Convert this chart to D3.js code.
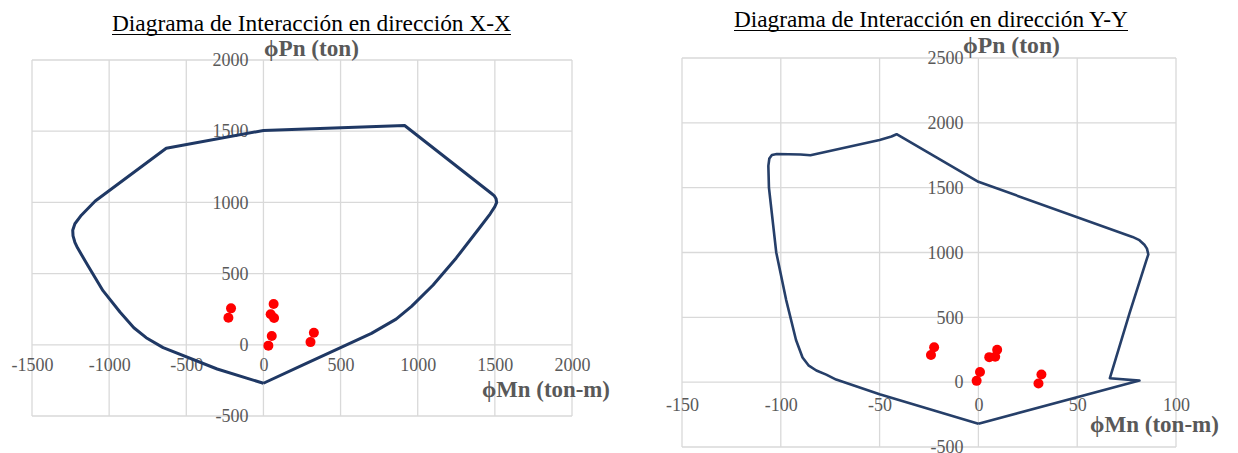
<!DOCTYPE html>
<html>
<head>
<meta charset="utf-8">
<script src="https://cdn.jsdelivr.net/npm/d3@7"></script>
<style>
  html, body { margin: 0; padding: 0; background: #ffffff; }
  svg { display: block; }
</style>
</head>
<body>
<svg id="chart" width="1238" height="453"></svg>
<script>
// ---- Interaction diagram, X-X direction (ϕMn in ton-m, ϕPn in ton) ----
const curveXM = [0, 250, 500, 700, 860, 960, 1100, 1250, 1400, 1470, 1500, 1512, 1508, 1495, 1474, 915, 0, -630, -1090, -1180, -1222, -1236, -1234, -1222, -1205, -1140, -1040, -930, -840, -760, -650, -300, 0];
const curveXP = [-270, -145, -20, 80, 180, 270, 420, 610, 820, 920, 970, 1000, 1025, 1048, 1066, 1540, 1505, 1380, 1010, 910, 850, 805, 765, 720, 681, 560, 380, 230, 120, 50, -20, -170, -270];
const loadsXM = [-210, -227, 66, 47, 69, 54, 32, 327, 305];
const loadsXP = [256, 190, 286, 214, 188, 62, -6, 85, 19];
const ticksXM = [-1500, -1000, -500, 0, 500, 1000, 1500, 2000];
const ticksXP = [-500, 0, 500, 1000, 1500, 2000];

// ---- Interaction diagram, Y-Y direction ----
const curveYM = [0, 81.5, 66.5, 76.5, 85, 86, 85.3, 84, 81.5, 78, 0, -41.4, -44, -50, -85, -90, -102, -104.5, -105.8, -106.3, -106, -102.3, -97.3, -92.3, -89, -86, -82, -77, -72, -50, 0];
const curveYP = [-320, 12, 30, 532, 940, 985, 1030, 1060, 1095, 1120, 1545, 1912, 1895, 1868, 1750, 1756, 1760, 1752, 1725, 1668, 1500, 1000, 635, 325, 190, 130, 90, 58, 20, -93, -320];
const loadsYM = [-22.4, -24, 9.5, 5.5, 8.5, 0.8, -0.9, 31.9, 30.4];
const loadsYP = [269, 209, 250, 193, 196, 79, 10, 59, -10];
const ticksYM = [-150, -100, -50, 0, 50, 100];
const ticksYP = [-500, 0, 500, 1000, 1500, 2000, 2500];

const titleX = "Diagrama de Interacción en dirección X-X";
const titleY = "Diagrama de Interacción en dirección Y-Y";
const labelP = "ϕPn (ton)";
const labelM = "ϕMn (ton-m)";

const FONT = "'Liberation Serif', 'Times New Roman', serif";
const GRID = "#d9d9d9";
const TEXT_GREY = "#595959";

const svg = d3.select("#chart");

// scale a text node's font size so it spans the requested width
function fitWidth(sel, width) {
  const node = sel.node();
  const fs = parseFloat(sel.attr("font-size"));
  const w = node.getComputedTextLength();
  sel.attr("font-size", (fs * width / w).toFixed(2));
}

function drawPanel(cfg) {
  const g = svg.append("g");
  const x = d3.scaleLinear().domain(cfg.xDomain).range(cfg.xRange);
  const y = d3.scaleLinear().domain(cfg.yDomain).range(cfg.yRange);

  // gridlines
  g.append("g").selectAll("line").data(cfg.xTicks).join("line")
    .attr("x1", d => x(d)).attr("x2", d => x(d))
    .attr("y1", y.range()[0]).attr("y2", y.range()[1])
    .attr("stroke", GRID).attr("stroke-width", 1.3);
  g.append("g").selectAll("line").data(cfg.yTicks).join("line")
    .attr("y1", d => y(d)).attr("y2", d => y(d))
    .attr("x1", x.range()[0]).attr("x2", x.range()[1])
    .attr("stroke", GRID).attr("stroke-width", 1.3);

  // tick labels along the axes through the origin
  const fmt = d => String(d);
  const xa = g.append("g").attr("transform", `translate(0,${y(0)})`)
    .call(d3.axisBottom(x).tickValues(cfg.xTicks).tickSize(0).tickPadding(cfg.xPad).tickFormat(fmt));
  const ya = g.append("g").attr("transform", `translate(${x(0)},0)`)
    .call(d3.axisLeft(y).tickValues(cfg.yTicks).tickSize(0).tickPadding(cfg.yPad).tickFormat(fmt));
  [xa, ya].forEach(a => {
    a.select(".domain").remove();
    a.selectAll("text").attr("font-family", FONT).attr("font-size", 18).attr("fill", TEXT_GREY);
  });

  // capacity curve
  const pts = d3.zip(cfg.curveM, cfg.curveP);
  g.append("path").datum(pts)
    .attr("d", d3.line().x(d => x(d[0])).y(d => y(d[1])).curve(d3.curveLinear))
    .attr("fill", "none").attr("stroke", cfg.lineColor).attr("stroke-width", cfg.lineWidth)
    .attr("stroke-linejoin", "round");

  // load combinations
  g.append("g").selectAll("circle").data(d3.zip(cfg.loadsM, cfg.loadsP)).join("circle")
    .attr("cx", d => x(d[0])).attr("cy", d => y(d[1])).attr("r", 5)
    .attr("fill", "#ff0000");

  // title with underline
  const t = g.append("text").text(cfg.title)
    .attr("x", cfg.titlePos[0]).attr("y", cfg.titlePos[1])
    .attr("font-family", FONT).attr("font-size", 20).attr("fill", "#000");
  fitWidth(t, cfg.titleWidth);
  g.append("line")
    .attr("x1", cfg.titlePos[0]).attr("x2", cfg.titlePos[0] + cfg.titleWidth)
    .attr("y1", cfg.titlePos[1] + 3.5).attr("y2", cfg.titlePos[1] + 3.5)
    .attr("stroke", "#000").attr("stroke-width", 1.2);

  // axis titles
  const pt = g.append("text").text(labelP)
    .attr("x", cfg.pLabel[0]).attr("y", cfg.pLabel[1])
    .attr("font-family", FONT).attr("font-weight", "bold").attr("font-size", 20).attr("fill", TEXT_GREY);
  fitWidth(pt, cfg.pLabel[2]);
  const mt = g.append("text").text(labelM)
    .attr("x", cfg.mLabel[0]).attr("y", cfg.mLabel[1])
    .attr("font-family", FONT).attr("font-weight", "bold").attr("font-size", 20).attr("fill", TEXT_GREY);
  fitWidth(mt, cfg.mLabel[2]);
}

drawPanel({
  xDomain: [-1500, 2000], xRange: [32, 572],
  yDomain: [-500, 2000], yRange: [416, 60],
  xTicks: ticksXM, yTicks: ticksXP, xPad: 13, yPad: 15,
  curveM: curveXM, curveP: curveXP, loadsM: loadsXM, loadsP: loadsXP,
  lineColor: "#1f3864", lineWidth: 3,
  title: titleX, titlePos: [112, 31], titleWidth: 399,
  pLabel: [264, 56, 95], mLabel: [482, 397, 128]
});

drawPanel({
  xDomain: [-150, 100], xRange: [682, 1176],
  yDomain: [-500, 2500], yRange: [447, 58],
  xTicks: ticksYM, yTicks: ticksYP, xPad: 16, yPad: 15,
  curveM: curveYM, curveP: curveYP, loadsM: loadsYM, loadsP: loadsYP,
  lineColor: "#263f69", lineWidth: 2.6,
  title: titleY, titlePos: [734, 27], titleWidth: 394,
  pLabel: [963, 53, 97], mLabel: [1090, 432, 129]
});
</script>
</body>
</html>
